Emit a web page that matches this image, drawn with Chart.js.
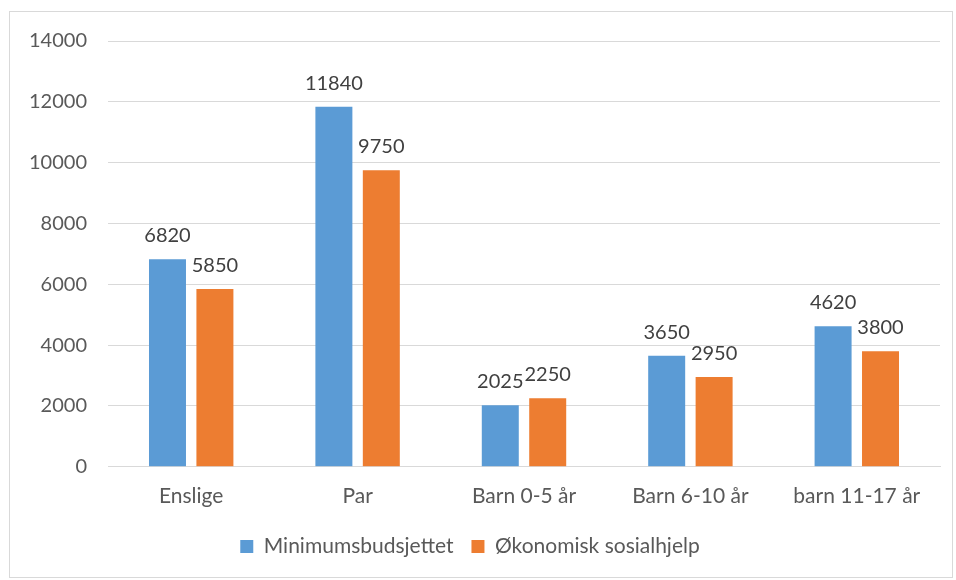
<!DOCTYPE html>
<html>
<head>
<meta charset="utf-8">
<script src="https://cdn.jsdelivr.net/npm/chart.js@4"></script>
<style>
  body { margin: 0; background: #fff; }
  #frame { position: absolute; left: 9px; top: 11px; width: 942px; height: 565px; border: 1px solid #d9d9d9; }
  #wrap { position: absolute; left: 0; top: 0; width: 956px; height: 580px; }
</style>
</head>
<body>
<div id="frame"></div>
<div id="wrap"><canvas id="myChart"></canvas></div>
<script>
// categories and values
var categories = ['Enslige', 'Par', 'Barn 0-5 år', 'Barn 6-10 år', 'barn 11-17 år'];
var minimumsbudsjettet = [6820, 11840, 2025, 3650, 4620];
var sosialhjelp = [5850, 9750, 2250, 2950, 3800];
var yTicks = [0, 2000, 4000, 6000, 8000, 10000, 12000, 14000];

var FONT = 'Lato, "Open Sans", sans-serif';

// draws the number above every bar
var barLabels = {
  id: 'barLabels',
  afterDatasetsDraw: function(chart) {
    var ctx = chart.ctx;
    ctx.save();
    ctx.font = '20px ' + FONT;
    ctx.fillStyle = '#404040';
    ctx.textAlign = 'center';
    ctx.textBaseline = 'alphabetic';
    chart.data.datasets.forEach(function(ds, i) {
      chart.getDatasetMeta(i).data.forEach(function(bar, j) {
        ctx.fillText(ds.data[j], bar.x, bar.y - 17);
      });
    });
    ctx.restore();
  }
};

var ctx = document.getElementById('myChart').getContext('2d');
var chart = new Chart(ctx, {
  type: 'bar',
  data: {
    labels: categories,
    datasets: [
      {
        label: 'Minimumsbudsjettet',
        backgroundColor: '#5b9bd5',
        data: minimumsbudsjettet
      },
      {
        label: 'Økonomisk sosialhjelp',
        backgroundColor: '#ed7d31',
        data: sosialhjelp
      }
    ]
  },
  options: {
    responsive: true,
    maintainAspectRatio: false,
    animation: false,
    datasets: {
      bar: { categoryPercentage: 0.57, barPercentage: 0.78 }
    },
    layout: { padding: { top: 41, right: 16, bottom: 13, left: 0 } },
    plugins: {
      tooltip: { enabled: false },
      legend: {
        position: 'bottom',
        labels: {
          boxWidth: 13,
          boxHeight: 13,
          padding: 18,
          color: '#595959',
          font: { family: FONT, size: 21 }
        }
      }
    },
    scales: {
      x: {
        grid: { display: false },
        border: { color: '#d9d9d9' },
        ticks: { color: '#595959', padding: 9, font: { family: FONT, size: 21 } }
      },
      y: {
        min: 0,
        max: 14000,
        afterFit: function(scale) { scale.width = 108; },
        afterBuildTicks: function(scale) {
          scale.ticks = yTicks.map(function(v) { return { value: v }; });
        },
        grid: { color: '#d9d9d9', drawTicks: false },
        border: { display: false },
        ticks: {
          color: '#595959',
          padding: 21,
          font: { family: FONT, size: 20 },
          callback: function(v) { return String(v); }
        }
      }
    }
  },
  plugins: [barLabels]
});
</script>
</body>
</html>
